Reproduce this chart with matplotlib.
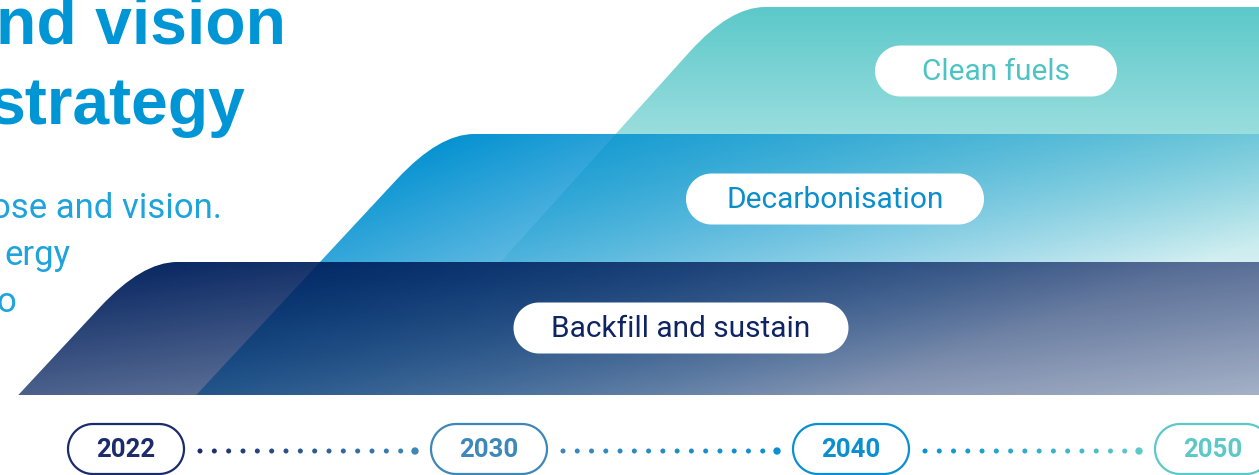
import numpy as np
import matplotlib
matplotlib.use("Agg")
import matplotlib.pyplot as plt
from matplotlib.path import Path
from matplotlib.patches import PathPatch, Polygon
from matplotlib.colors import to_rgb

# canvas in pixels
W, H = 1259, 475

# chart content
layers = ["Backfill and sustain", "Decarbonisation", "Clean fuels"]
layer_fill = ["#001F5C", "#0090D0", "#5BC8C9"]
layer_text = ["#0F2462", "#0A8FCC", "#4DC3C4"]
years = ["2022", "2030", "2040", "2050"]
year_colors = ["#1B2B6B", "#3D87B9", "#0A90D2", "#5CC9C8"]
title_lines = ["nd vision", "strategy"]
body_lines = ["ose and vision.", "ergy", "o"]
dots_per_gap = 16

# layout (pixels, y downwards)
band_top = [262, 134, 7]
band_bot = [395, 395, 262]
corner_x = [142, 439, 730]
slope = [0.93, 0.93, 0.90]
label_center = [(681, 328), (835, 199), (996, 71)]
label_width = [335, 298, 242]
year_x = [126, 489, 851, 1213]


def ramp_path(xc, ytop, ybot, k, r1=45, r2=35):
	# ramp with a rounded top-left corner, running off the right edge
	xb = xc - (ybot - ytop) * k
	verts = [(xb, ybot), (xc - r1 * k, ytop + r1), (xc, ytop), (xc + r2, ytop),
			 (W + 20, ytop), (W + 20, ybot), (xb, ybot)]
	codes = [Path.MOVETO, Path.LINETO, Path.CURVE3, Path.CURVE3,
			 Path.LINETO, Path.LINETO, Path.CLOSEPOLY]
	return Path(verts, codes)


def pill(cx, cy, w, h, **kw):
	# stadium shape: two half circles joined by straight edges
	r = h / 2
	a = np.linspace(-np.pi / 2, np.pi / 2, 40)
	right = np.c_[cx + w / 2 - r + r * np.cos(a), cy + r * np.sin(a)]
	left = np.c_[cx - w / 2 + r - r * np.cos(a), cy - r * np.sin(a)]
	return Polygon(np.vstack([right, left]), closed=True, **kw)


yy, xx = np.mgrid[0:H, 0:W] + 0.5
alphas = [
	np.clip(0.97 - 0.30 * (yy - 262) / 133 - 0.33 * (xx - 150) / 1100, 0.3, 1),
	np.clip(1.0 - 0.30 * (yy - 134) / 128 - 0.72 * (xx - 440) / 820, 0.03, 1),
	np.clip(1.0 - 0.37 * (yy - 7) / 123, 0.1, 1),
]

fig = plt.figure(figsize=(W / 100, H / 100), dpi=100)
ax = fig.add_axes([0, 0, 1, 1])
ax.set_xlim(0, W)
ax.set_ylim(H, 0)
ax.axis("off")

# bands, drawn back to front
for i in [2, 1, 0]:
	img = np.zeros((H, W, 4))
	img[..., :3] = to_rgb(layer_fill[i])
	img[..., 3] = alphas[i]
	patch = PathPatch(ramp_path(corner_x[i], band_top[i], band_bot[i], slope[i]),
					  transform=ax.transData, facecolor="none", edgecolor="none")
	im = ax.imshow(img, extent=(0, W, H, 0), interpolation="bilinear", zorder=3 - i)
	im.set_clip_path(patch)

# white pill labels
for i, name in enumerate(layers):
	cx, cy = label_center[i]
	ax.add_patch(pill(cx, cy, label_width[i], 51, facecolor="white",
					  edgecolor="none", zorder=5))
	ax.text(cx, cy + 1, name, ha="center", va="center", fontsize=21.5,
			family="Roboto", color=layer_text[i], zorder=6)

# timeline
for i, yr in enumerate(years):
	ax.add_patch(pill(year_x[i], 449, 116, 50, facecolor="white",
					  edgecolor=year_colors[i], linewidth=1.6, zorder=5))
	ax.text(year_x[i], 450, yr, ha="center", va="center", fontsize=18.5,
			family="Roboto", fontweight="bold", color=year_colors[i], zorder=6)
	if i < len(years) - 1:
		x0, x1 = year_x[i] + 74, year_x[i + 1] - 74
		dx = np.linspace(x0, x1, dots_per_gap)
		c0, c1 = np.array(to_rgb(year_colors[i])), np.array(to_rgb(year_colors[i + 1]))
		t = np.linspace(0, 1, dots_per_gap)[:, None]
		cols = c0 * (1 - t) + c1 * t
		sizes = [13] * (dots_per_gap - 1) + [28]
		ax.scatter(dx, [451] * dots_per_gap, s=sizes, c=cols, linewidths=0, zorder=6)

# heading text, cut by the left edge
ax.text(286, 44, title_lines[0], ha="right", va="baseline", fontsize=47.5,
		family="Liberation Sans", fontweight="bold", color="#0096D6")
ax.text(246, 124, title_lines[1], ha="right", va="baseline", fontsize=47.5,
		family="Liberation Sans", fontweight="bold", color="#0096D6")
body_right = [222, 71, 16]
for j, line in enumerate(body_lines):
	ax.text(body_right[j], 218 + 47 * j, line, ha="right", va="baseline", fontsize=25,
			family="Roboto", color="#1FA3DD")

fig.savefig("out.png", dpi=100)
